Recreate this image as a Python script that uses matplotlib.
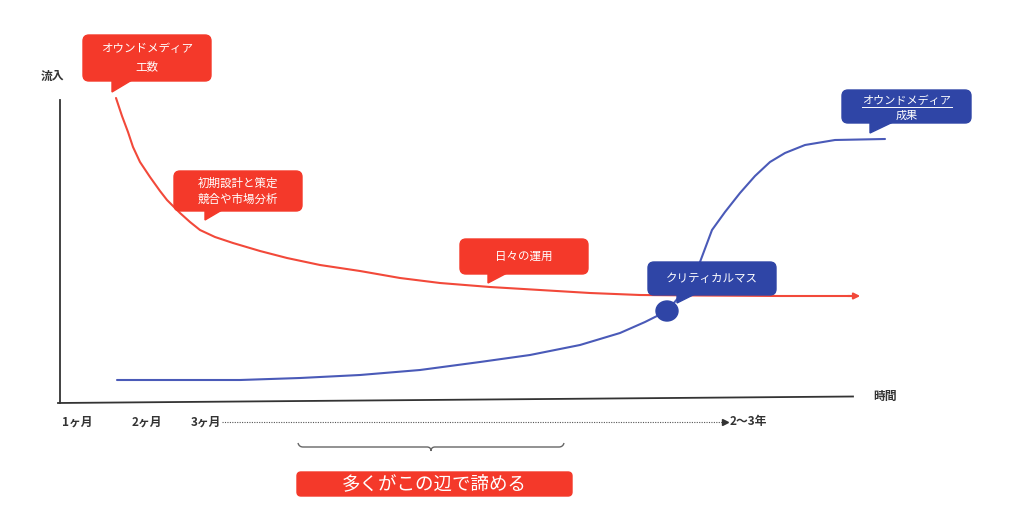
import matplotlib
matplotlib.use("Agg")
import matplotlib.pyplot as plt
from matplotlib.patches import FancyBboxPatch, Polygon, Ellipse
from matplotlib.path import Path
from matplotlib.patches import PathPatch

plt.rcParams['font.family'] = ['Noto Sans CJK JP', 'DejaVu Sans']

# ---- data (canvas coordinates) ----
red_x = [116, 122, 128, 133, 140, 150, 160, 167, 180, 190, 200, 215, 233, 260, 287, 320, 360,
         400, 440, 490, 540, 590, 640, 700, 780, 850]
red_y = [98, 116, 132, 147, 162, 177, 191, 200, 213, 222, 230, 237, 243, 251, 258, 265, 271,
         278, 283, 287, 290, 293, 295, 295.5, 296, 296]
blue_x = [117, 180, 240, 300, 360, 420, 480, 530, 580, 620, 645, 667, 685, 700, 712, 725, 740,
          755, 770, 785, 805, 835, 885]
blue_y = [380, 380, 380, 378, 375, 370, 362, 355, 345, 333, 322, 311, 290, 262, 230, 212, 193,
          176, 162, 153, 145, 140, 139]
critical_mass = (667, 311)

x_ticks = ["1ヶ月", "2ヶ月", "3ヶ月"]
x_tick_pos = [77, 147, 206]
end_tick = "2〜3年"
y_label = "流入"
x_label = "時間"
bottom_text = "多くがこの辺で諦める"

RED = "#F4392A"
RED_LINE = "#F2493A"
BLUE = "#2F45A6"
BLUE_LINE = "#4A5AB8"
DARK = "#333333"

fig = plt.figure(figsize=(10.24, 5.18), dpi=100)
ax = fig.add_axes([0, 0, 1, 1])
ax.set_xlim(0, 1024)
ax.set_ylim(518, 0)
ax.axis('off')

# axes lines
ax.plot([60, 60], [100, 403], color=DARK, lw=1.3)
ax.plot([58, 853], [403, 396.5], color=DARK, lw=1.3)
ax.text(52, 76, y_label, fontsize=8.5, fontweight='bold', ha='center', va='center', color=DARK)
ax.text(885, 396, x_label, fontsize=8.5, fontweight='bold', ha='center', va='center', color=DARK)

for lab, px in zip(x_ticks, x_tick_pos):
    ax.text(px, 422, lab, fontsize=8.5, fontweight='bold', ha='center', va='center', color=DARK)
ax.plot([222, 722], [422, 422], color="#555555", lw=0.8, ls=(0, (1, 1.2)))
ax.plot([725], [422], marker='>', color=DARK, ms=4)
ax.text(748, 421, end_tick, fontsize=8.5, fontweight='bold', ha='center', va='center', color=DARK)

# curves
ax.plot(red_x, red_y, color=RED_LINE, lw=1.5, solid_capstyle='round', solid_joinstyle='round')
ax.annotate('', xy=(863, 296), xytext=(845, 296),
            arrowprops=dict(arrowstyle='-|>', color=RED_LINE, lw=1.5, mutation_scale=9))
ax.plot(blue_x, blue_y, color=BLUE_LINE, lw=1.5, solid_capstyle='round', solid_joinstyle='round')
ax.add_patch(Ellipse(critical_mass, 22, 20, color=BLUE, zorder=5))


def callout(x0, y0, x1, y1, tail, color, lines, fs=8.3, line_y=None, underline_first=False):
    box = FancyBboxPatch((x0, y0), x1 - x0, y1 - y0,
                         boxstyle="round,pad=0,rounding_size=6",
                         fc=color, ec=color, zorder=6)
    ax.add_patch(box)
    if tail is not None:
        ax.add_patch(Polygon(tail, closed=True, fc=color, ec=color, zorder=6))
    cx = (x0 + x1) / 2
    n = len(lines)
    h = y1 - y0
    for i, ln in enumerate(lines):
        if line_y is not None:
            cy = line_y[i]
        elif n == 2:
            cy = y0 + h * (0.3 if i == 0 else 0.7)
        else:
            cy = y0 + h / 2
        ax.text(cx, cy, ln, fontsize=fs, color='white', ha='center', va='center', zorder=7)
        if underline_first and i == 0:
            ax.plot([cx - 45, cx + 45], [cy + 6.5, cy + 6.5], color='white', lw=0.7, zorder=7)


callout(83, 35, 211, 81, [(112, 80), (112, 92), (132, 80)], RED, ["オウンドメディア", "工数"])
callout(174, 171, 302, 211, [(205, 210), (205, 220), (222, 210)], RED, ["初期設計と策定", "競合や市場分析"])
callout(460, 239, 588, 274, [(488, 273), (488, 283), (507, 273)], RED, ["日々の運用"])
callout(648, 262, 776, 295, [(677, 294), (677, 303), (695, 294)], BLUE, ["クリティカルマス"])
callout(842, 90, 971, 123, [(870, 122), (870, 133), (893, 122)], BLUE, ["オウンドメディア", "成果"],
        fs=8, line_y=[100.5, 116], underline_first=True)

# bracket
verts = [(298, 443), (299, 447), (303, 447), (427, 447), (431, 447), (431, 451),
         (431, 447), (435, 447), (559, 447), (563, 447), (564, 443)]
codes = [Path.MOVETO, Path.CURVE3, Path.CURVE3, Path.LINETO, Path.CURVE3, Path.CURVE3,
         Path.CURVE3, Path.CURVE3, Path.LINETO, Path.CURVE3, Path.CURVE3]
ax.add_patch(PathPatch(Path(verts, codes), fc='none', ec="#666666", lw=1))

# bottom label
ax.add_patch(FancyBboxPatch((297, 472), 275, 24, boxstyle="round,pad=0,rounding_size=4",
                            fc=RED, ec=RED, zorder=6))
ax.text(434.5, 484, bottom_text, fontsize=13.3, color='white', ha='center', va='center', zorder=7)

fig.savefig("out.png", dpi=100)
